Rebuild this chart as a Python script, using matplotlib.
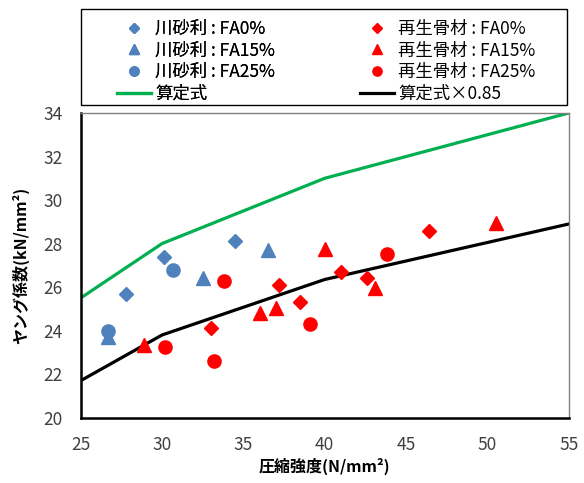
import matplotlib
matplotlib.use("Agg")
import matplotlib.pyplot as plt
from matplotlib.patches import Rectangle

plt.rcParams['font.family'] = ['Noto Sans CJK JP', 'DejaVu Sans']

# 川砂利 (river gravel)
kawa_fa0_x = [27.8, 30.1, 34.5]
kawa_fa0_y = [25.7, 27.4, 28.1]
kawa_fa15_x = [26.7, 32.5, 36.5]
kawa_fa15_y = [23.7, 26.4, 27.7]
kawa_fa25_x = [26.7, 30.7]
kawa_fa25_y = [24.0, 26.8]

# 再生骨材 (recycled aggregate)
sai_fa0_x = [33.0, 37.2, 38.5, 41.0, 42.6, 46.4]
sai_fa0_y = [24.1, 26.1, 25.3, 26.7, 26.4, 28.6]
sai_fa15_x = [28.9, 36.0, 37.0, 40.0, 43.1, 50.5]
sai_fa15_y = [23.35, 24.8, 25.05, 27.75, 25.95, 28.95]
sai_fa25_x = [30.2, 33.2, 33.8, 39.1, 43.8]
sai_fa25_y = [23.25, 22.6, 26.3, 24.3, 27.5]

# 算定式 and 算定式×0.85
calc_x = [25, 30, 40, 55]
calc_y = [25.5, 28.0, 31.0, 34.0]
calc85_y = [21.7, 23.8, 26.35, 28.9]

x_ticks = [25, 30, 35, 40, 45, 50, 55]
y_ticks = [20, 22, 24, 26, 28, 30, 32, 34]

BLUE = '#4F81BD'
RED = '#FF0000'
GREEN = '#00B050'

W, H = 584, 483
fig = plt.figure(figsize=(W / 100, H / 100), dpi=100)
ax = fig.add_axes([80.7 / W, 1 - 417.7 / H, 488 / W, 304.7 / H])

ln_calc, = ax.plot(calc_x, calc_y, color=GREEN, lw=2.3, zorder=2)
ln_85, = ax.plot(calc_x, calc85_y, color='black', lw=2.3, zorder=2)

k0, = ax.plot(kawa_fa0_x, kawa_fa0_y, 'D', color=BLUE, ms=7, ls='none', zorder=3)
k15, = ax.plot(kawa_fa15_x, kawa_fa15_y, '^', color=BLUE, ms=10, ls='none', zorder=3)
k25, = ax.plot(kawa_fa25_x, kawa_fa25_y, 'o', color=BLUE, ms=9.5, ls='none', zorder=3)
s0, = ax.plot(sai_fa0_x, sai_fa0_y, 'D', color=RED, ms=7, ls='none', zorder=3)
s15, = ax.plot(sai_fa15_x, sai_fa15_y, '^', color=RED, ms=10, ls='none', zorder=3)
s25, = ax.plot(sai_fa25_x, sai_fa25_y, 'o', color=RED, ms=9.5, ls='none', zorder=3)

ax.set_xlim(25, 55)
ax.set_ylim(20, 34)
ax.set_xticks(x_ticks)
ax.set_yticks(y_ticks)
ax.tick_params(length=0, labelsize=12.5, pad=13)
for lab in ax.get_xticklabels() + ax.get_yticklabels():
    lab.set_color('#404040')

for s in ['left', 'bottom']:
    ax.spines[s].set_linewidth(1.8)
    ax.spines[s].set_color('black')
for s in ['top', 'right']:
    ax.spines[s].set_linewidth(1.0)
    ax.spines[s].set_color('#808080')

ax.set_xlabel('圧縮強度(N/mm²)', fontsize=11.5, fontweight='bold', labelpad=3)
ax.set_ylabel('ヤング係数(kN/mm²)', fontsize=11.5, fontweight='bold', labelpad=10)

# legend: two columns placed separately, with a plain box around them
leg_kw = dict(loc='upper left', frameon=False, fontsize=12.5, borderpad=0,
              labelspacing=0.22, handlelength=2.0, handletextpad=0.2,
              markerscale=0.7)
col1 = fig.legend([k0, k15, k25, ln_calc],
                  ['川砂利 : FA0%', '川砂利 : FA15%', '川砂利 : FA25%', '算定式'],
                  bbox_to_anchor=(108 / W, 1 - 11 / H), **leg_kw)
col2 = fig.legend([s0, s15, s25, ln_85],
                  ['再生骨材 : FA0%', '再生骨材 : FA15%', '再生骨材 : FA25%', '算定式×0.85'],
                  bbox_to_anchor=(351 / W, 1 - 11 / H), **leg_kw)
fig.add_artist(col1)
fig.patches.append(Rectangle((80.5 / W, 1 - 105 / H), 486 / W, 95.5 / H,
                             transform=fig.transFigure, fill=False,
                             edgecolor='black', lw=1.0))

fig.savefig('out.png', dpi=100)
